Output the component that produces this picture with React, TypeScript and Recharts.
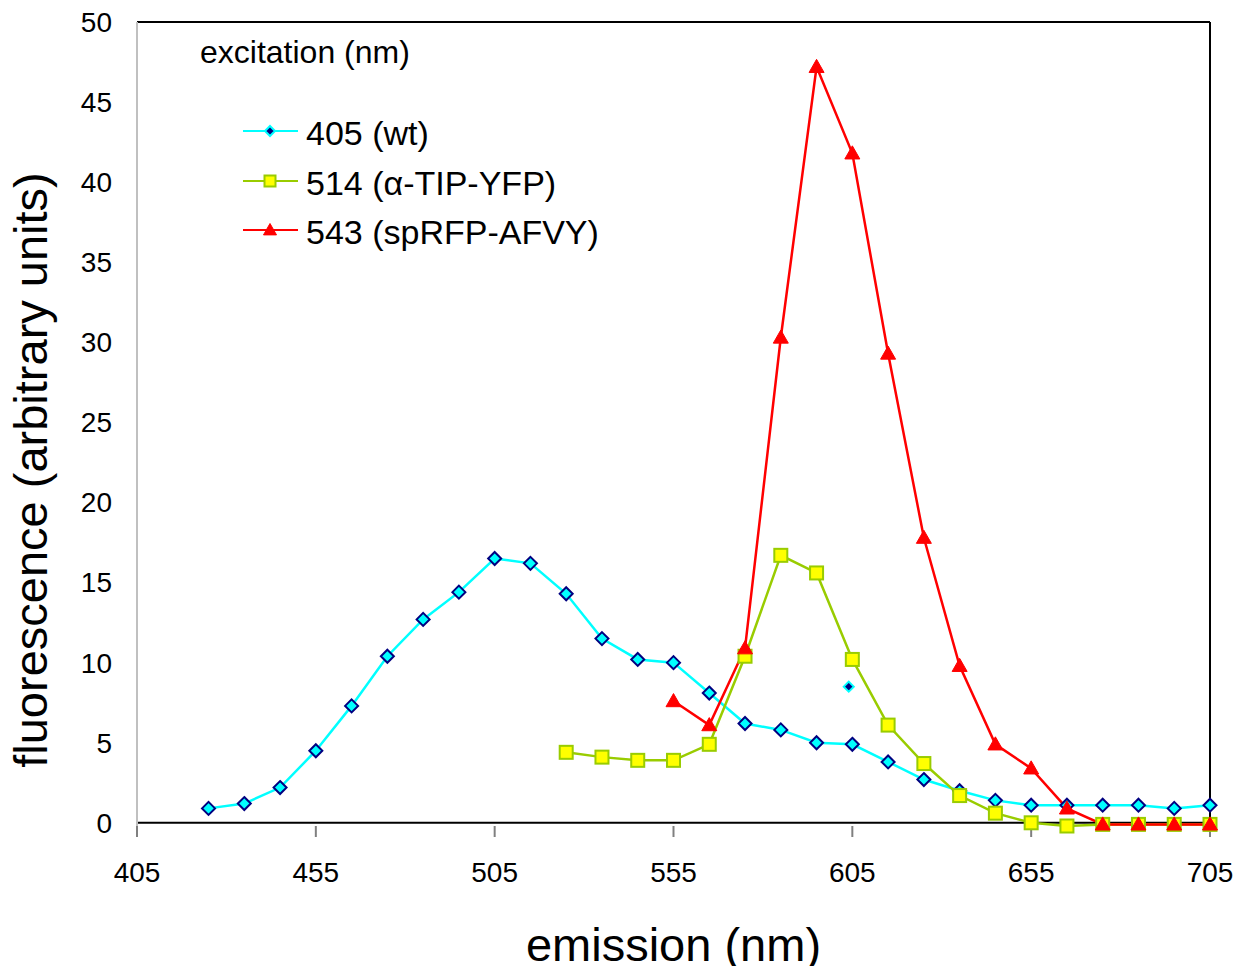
import React from "react";
import {
  ComposedChart,
  XAxis,
  YAxis,
  Line,
  Scatter,
  Legend,
  ReferenceLine,
  Label,
} from "recharts";

// emission wavelengths (nm) per series
const wtX = [425, 435, 445, 455, 465, 475, 485, 495, 505, 515, 525, 535, 545, 555, 565, 575, 585, 595, 605, 615, 625, 635, 645, 655, 665, 675, 685, 695, 705];
const wtY = [0.9, 1.2, 2.2, 4.5, 7.3, 10.4, 12.7, 14.4, 16.5, 16.2, 14.3, 11.5, 10.2, 10.0, 8.1, 6.2, 5.8, 5.0, 4.9, 3.8, 2.7, 2.0, 1.4, 1.1, 1.1, 1.1, 1.1, 0.9, 1.1];

const yfpX = [525, 535, 545, 555, 565, 575, 585, 595, 605, 615, 625, 635, 645, 655, 665, 675, 685, 695, 705];
const yfpY = [4.4, 4.1, 3.9, 3.9, 4.9, 10.4, 16.7, 15.6, 10.2, 6.1, 3.7, 1.7, 0.6, 0.0, -0.2, -0.1, -0.1, -0.1, -0.1];

const rfpX = [555, 565, 575, 585, 595, 605, 615, 625, 635, 645, 655, 665, 675, 685, 695, 705];
const rfpY = [7.6, 6.1, 10.9, 30.3, 47.2, 41.8, 29.3, 17.8, 9.8, 4.9, 3.4, 0.9, -0.1, -0.1, -0.1, -0.1];

// stray legend-style marker left in the plot
const strayX = [604];
const strayY = [8.5];

const xTicks = [405, 455, 505, 555, 605, 655, 705];
const yTicks = [0, 5, 10, 15, 20, 25, 30, 35, 40, 45, 50];

const legendTitle = "excitation (nm)";
const seriesNames = ["405 (wt)", "514 (\u03b1-TIP-YFP)", "543 (spRFP-AFVY)"];

const zip = (xs: number[], ys: number[]) => xs.map((x, i) => ({ x, y: ys[i] }));

const wtData = zip(wtX, wtY);
const yfpData = zip(yfpX, yfpY);
const rfpData = zip(rfpX, rfpY);
const strayData = zip(strayX, strayY);

const FONT = "'Liberation Sans', Arial, sans-serif";

const CYAN = "#00ffff";
const NAVY = "#000080";
const YELLOW = "#ffff00";
const GREEN = "#99cc00";
const RED = "#ff0000";

const Diamond = ({ cx, cy, r = 6.5, fill = CYAN, stroke = NAVY, sw = 2 }: any) => (
  <path
    d={`M${cx},${cy - r}L${cx + r},${cy}L${cx},${cy + r}L${cx - r},${cy}Z`}
    fill={fill}
    stroke={stroke}
    strokeWidth={sw}
  />
);

const Square = ({ cx, cy, s = 6.5 }: any) => (
  <rect x={cx - s} y={cy - s} width={s * 2} height={s * 2} fill={YELLOW} stroke={GREEN} strokeWidth={2} />
);

const Triangle = ({ cx, cy, s = 7.5 }: any) => (
  <path d={`M${cx},${cy - s}L${cx + s},${cy + s * 0.75}L${cx - s},${cy + s * 0.75}Z`} fill={RED} stroke={RED} strokeWidth={1} />
);

const legendContent = () => {
  const rows = [
    { y: 131, color: CYAN, mark: (cx: number, cy: number) => <Diamond cx={cx} cy={cy} r={5} fill={NAVY} stroke={CYAN} sw={2} /> },
    { y: 181, color: GREEN, mark: (cx: number, cy: number) => <Square cx={cx} cy={cy} s={5.5} /> },
    { y: 230, color: RED, mark: (cx: number, cy: number) => <Triangle cx={cx} cy={cy} s={6.5} /> },
  ];
  return (
    <svg width={700} height={260} style={{ display: "block" }}>
      <text x={200} y={63} fontFamily={FONT} fontSize={32} fill="#000">
        {legendTitle}
      </text>
      {rows.map((r, i) => (
        <g key={i}>
          <line x1={243} x2={298} y1={r.y} y2={r.y} stroke={r.color} strokeWidth={2} />
          {r.mark(270, r.y)}
          <text x={306} y={r.y + 14} fontFamily={FONT} fontSize={34} fill="#000">
            {seriesNames[i]}
          </text>
        </g>
      ))}
    </svg>
  );
};

const yLabel = () => (
  <text
    x={47}
    y={470}
    transform="rotate(-90 47 470)"
    textAnchor="middle"
    fontFamily={FONT}
    fontSize={47}
    fill="#000"
  >
    fluorescence (arbitrary units)
  </text>
);

const xLabel = ({ viewBox }: any) => (
  <text
    x={viewBox.x + viewBox.width / 2}
    y={961}
    textAnchor="middle"
    fontFamily={FONT}
    fontSize={47}
    fill="#000"
  >
    emission (nm)
  </text>
);

export default function App() {
  return (
    <div style={{ margin: -8, width: 1248, height: 974, background: "#fff" }}>
      <ComposedChart
        width={1248}
        height={974}
        margin={{ top: 22, right: 38, bottom: 0, left: 0 }}
      >
        <XAxis
          type="number"
          dataKey="x"
          domain={[405, 705]}
          ticks={xTicks}
          axisLine={false}
          tickLine={{ stroke: "#808080", strokeWidth: 2 }}
          tickSize={11}
          tickMargin={25}
          tick={{ fontFamily: FONT, fontSize: 28, fill: "#000" }}
          height={148}
        >
          <Label content={xLabel} />
        </XAxis>
        <YAxis
          type="number"
          domain={[-0.2, 50]}
          ticks={yTicks}
          width={137}
          axisLine={{ stroke: "#c0c0c0", strokeWidth: 2 }}
          tickLine={false}
          tickSize={5}
          tickMargin={20}
          tick={{ fontFamily: FONT, fontSize: 28, fill: "#000" }}
        >
          <Label content={yLabel} />
        </YAxis>
        <ReferenceLine y={0} stroke="#000" strokeWidth={2} />
        <ReferenceLine y={50} stroke="#000" strokeWidth={2} />
        <ReferenceLine x={705} stroke="#000" strokeWidth={2} />
        <Line
          data={wtData}
          dataKey="y"
          stroke={CYAN}
          strokeWidth={2.5}
          dot={(p: any) => <Diamond key={`w${p.index}`} cx={p.cx} cy={p.cy} />}
          activeDot={false}
          isAnimationActive={false}
        />
        <Line
          data={yfpData}
          dataKey="y"
          stroke={GREEN}
          strokeWidth={2.5}
          dot={(p: any) => <Square key={`g${p.index}`} cx={p.cx} cy={p.cy} />}
          activeDot={false}
          isAnimationActive={false}
        />
        <Line
          data={rfpData}
          dataKey="y"
          stroke={RED}
          strokeWidth={2.5}
          dot={(p: any) => <Triangle key={`r${p.index}`} cx={p.cx} cy={p.cy} />}
          activeDot={false}
          isAnimationActive={false}
        />
        <Scatter
          data={strayData}
          dataKey="y"
          shape={(p: any) => <Diamond cx={p.cx} cy={p.cy} r={5} fill={NAVY} stroke={CYAN} sw={2} />}
          isAnimationActive={false}
        />
        <Legend
          layout="vertical"
          align="center"
          verticalAlign="middle"
          content={legendContent}
          wrapperStyle={{ position: "absolute", left: 0, top: 0, width: 700, height: 260 }}
        />
      </ComposedChart>
    </div>
  );
}
